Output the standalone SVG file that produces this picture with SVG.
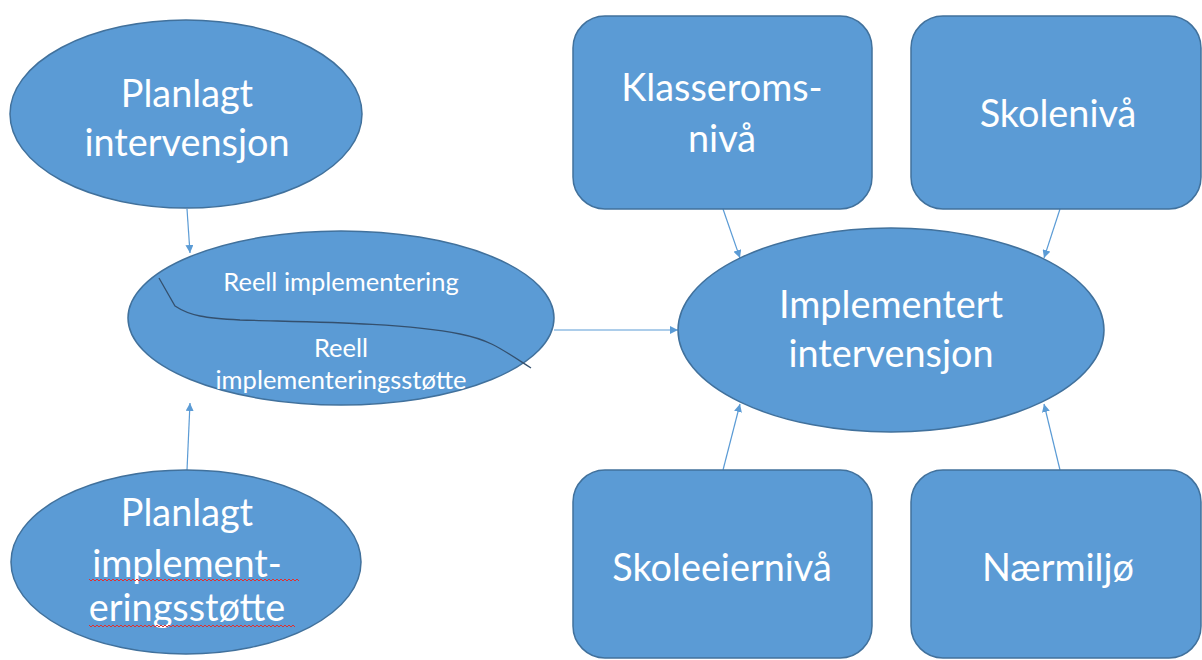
<svg xmlns="http://www.w3.org/2000/svg" width="1202" height="660" viewBox="0 0 1202 660">
<defs>
<style>
.shape{fill:#5B9BD5;stroke:#41719C;stroke-width:1.5}
.t{font-family:Lato,"Open Sans","Liberation Sans",sans-serif;fill:#FFFFFF;text-anchor:middle}
.big{font-size:37.8px}
.small{font-size:25.5px}
.conn{stroke:#5B9BD5;stroke-width:1.2;fill:none}
.wavy{stroke:#E03030;stroke-width:1;fill:none}
</style>
<marker id="ah" viewBox="0 0 10 10" refX="10" refY="5" markerWidth="8" markerHeight="8" markerUnits="userSpaceOnUse" orient="auto">
<path d="M0,0 L10,5 L0,10 Z" fill="#5B9BD5"/>
</marker>
</defs>
<rect width="1202" height="660" fill="#FFFFFF"/>
<g id="connectors">
<line class="conn" x1="187" y1="209" x2="190" y2="253" marker-end="url(#ah)"/>
<line class="conn" x1="187" y1="470" x2="190" y2="403" marker-end="url(#ah)"/>
<line class="conn" x1="554" y1="330" x2="678" y2="330" marker-end="url(#ah)"/>
<line class="conn" x1="723" y1="209" x2="740" y2="258" marker-end="url(#ah)"/>
<line class="conn" x1="1060" y1="209" x2="1044" y2="258" marker-end="url(#ah)"/>
<line class="conn" x1="723" y1="470" x2="740" y2="404" marker-end="url(#ah)"/>
<line class="conn" x1="1060" y1="470" x2="1044" y2="404" marker-end="url(#ah)"/>
</g>
<g id="planlagt-intervensjon">
<ellipse class="shape" cx="186" cy="114" rx="176" ry="94"/>
<text class="t big" x="187" y="107">Planlagt</text>
<text class="t big" x="187" y="156">intervensjon</text>
</g>
<g id="reell-implementering">
<ellipse class="shape" cx="341" cy="318" rx="213" ry="87"/>
<path d="M159,278 L175,306 C190,316 205,318 240,320 C300,322 400,322 460,334 C490,340 500,348 531,368" fill="none" stroke="#34506E" stroke-width="1.3"/>
<text class="t small" x="341" y="291">Reell implementering</text>
<text class="t small" x="341" y="357">Reell</text>
<text class="t small" x="341" y="389">implementeringsstøtte</text>
</g>
<g id="planlagt-implementeringsstotte">
<ellipse class="shape" cx="186" cy="562" rx="175" ry="92"/>
<text class="t big" x="187" y="526">Planlagt</text>
<text class="t big" x="187" y="577">implement-</text>
<text class="t big" x="187" y="621">eringsstøtte</text>
<path class="wavy" d="M89,579 l2,2 l2,-2 l2,2 l2,-2 l2,2 l2,-2 l2,2 l2,-2 l2,2 l2,-2 l2,2 l2,-2 l2,2 l2,-2 l2,2 l2,-2 l2,2 l2,-2 l2,2 l2,-2 l2,2 l2,-2 l2,2 l2,-2 l2,2 l2,-2 l2,2 l2,-2 l2,2 l2,-2 l2,2 l2,-2 l2,2 l2,-2 l2,2 l2,-2 l2,2 l2,-2 l2,2 l2,-2 l2,2 l2,-2 l2,2 l2,-2 l2,2 l2,-2 l2,2 l2,-2 l2,2 l2,-2 l2,2 l2,-2 l2,2 l2,-2 l2,2 l2,-2 l2,2 l2,-2 l2,2 l2,-2 l2,2 l2,-2 l2,2 l2,-2 l2,2 l2,-2 l2,2 l2,-2 l2,2 l2,-2 l2,2 l2,-2 l2,2 l2,-2 l2,2 l2,-2 l2,2 l2,-2 l2,2 l2,-2 l2,2 l2,-2 l2,2 l2,-2 l2,2 l2,-2 l2,2 l2,-2 l2,2 l2,-2 l2,2 l2,-2 l2,2 l2,-2 l2,2 l2,-2 l2,2 l2,-2 l2,2 l2,-2 l2,2 l2,-2 l2,2 l2,-2 l2,2"/>
<path class="wavy" d="M89,625 l2,2 l2,-2 l2,2 l2,-2 l2,2 l2,-2 l2,2 l2,-2 l2,2 l2,-2 l2,2 l2,-2 l2,2 l2,-2 l2,2 l2,-2 l2,2 l2,-2 l2,2 l2,-2 l2,2 l2,-2 l2,2 l2,-2 l2,2 l2,-2 l2,2 l2,-2 l2,2 l2,-2 l2,2 l2,-2 l2,2 l2,-2 l2,2 l2,-2 l2,2 l2,-2 l2,2 l2,-2 l2,2 l2,-2 l2,2 l2,-2 l2,2 l2,-2 l2,2 l2,-2 l2,2 l2,-2 l2,2 l2,-2 l2,2 l2,-2 l2,2 l2,-2 l2,2 l2,-2 l2,2 l2,-2 l2,2 l2,-2 l2,2 l2,-2 l2,2 l2,-2 l2,2 l2,-2 l2,2 l2,-2 l2,2 l2,-2 l2,2 l2,-2 l2,2 l2,-2 l2,2 l2,-2 l2,2 l2,-2 l2,2 l2,-2 l2,2 l2,-2 l2,2 l2,-2 l2,2 l2,-2 l2,2 l2,-2 l2,2 l2,-2 l2,2 l2,-2 l2,2 l2,-2 l2,2 l2,-2 l2,2 l2,-2 l2,2 l2,-2 l2,2"/>
</g>
<g id="implementert-intervensjon">
<ellipse class="shape" cx="891" cy="330" rx="213" ry="102"/>
<text class="t big" x="891" y="318">Implementert</text>
<text class="t big" x="891" y="367">intervensjon</text>
</g>
<g id="klasseromsniva">
<rect class="shape" x="573" y="16" width="299" height="193" rx="32"/>
<text class="t big" x="722" y="101">Klasseroms-</text>
<text class="t big" x="722" y="152">nivå</text>
</g>
<g id="skoleniva">
<rect class="shape" x="911" y="16" width="290" height="193" rx="32"/>
<text class="t big" x="1058" y="127">Skolenivå</text>
</g>
<g id="skoleeierniva">
<rect class="shape" x="573" y="470" width="299" height="188" rx="32"/>
<text class="t big" x="722" y="581">Skoleeiernivå</text>
</g>
<g id="naermiljo">
<rect class="shape" x="911" y="470" width="290" height="188" rx="32"/>
<text class="t big" x="1058" y="581">Nærmiljø</text>
</g>
</svg>
